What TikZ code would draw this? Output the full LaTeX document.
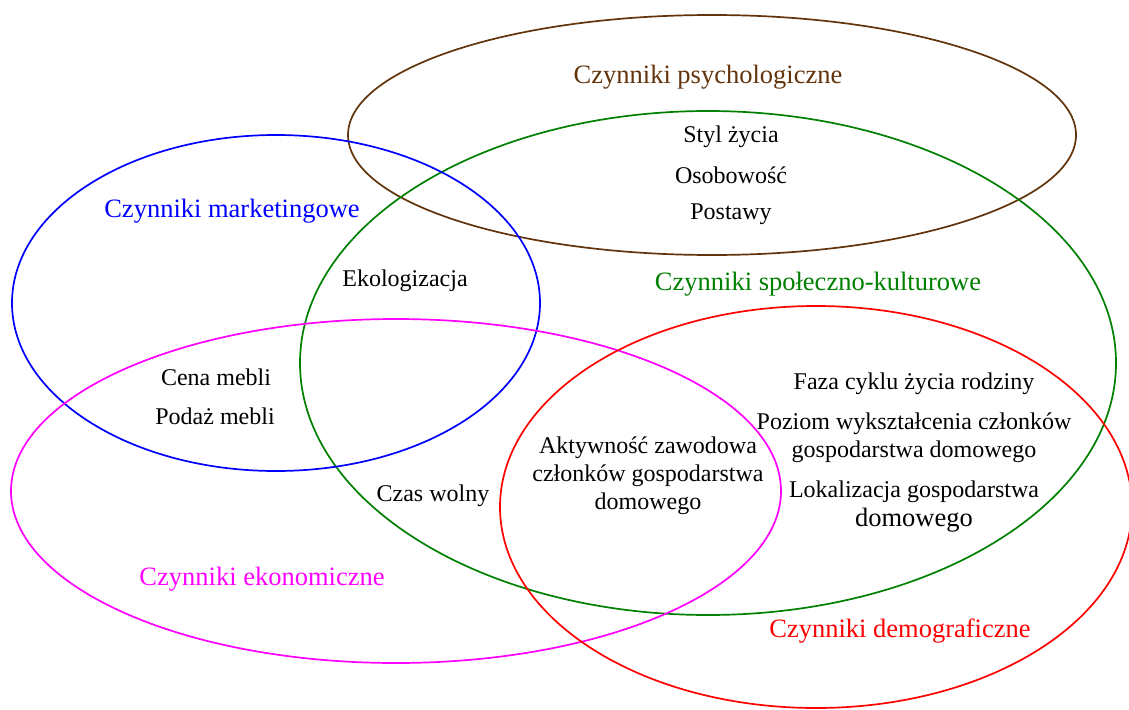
\documentclass[tikz,border=0pt]{standalone}
\usepackage{fontspec}
\setmainfont{Liberation Serif}
\definecolor{psybrown}{RGB}{99,52,12}
\definecolor{socgreen}{RGB}{0,128,0}
\definecolor{mkblue}{RGB}{0,0,255}
\definecolor{ekmag}{RGB}{255,0,255}
\definecolor{demred}{RGB}{255,0,0}
\begin{document}
\begin{tikzpicture}[x=1pt,y=-1pt,
  ring/.style={line width=1.7pt},
  lab/.style={font=\fontsize{26.5}{30}\selectfont, inner sep=0pt, align=center},
  txt/.style={font=\fontsize{24}{28}\selectfont, inner sep=0pt, align=center}]
\useasboundingbox[fill=white] (0,0) rectangle (1129,709);
\draw[ring, psybrown] (712,135) ellipse [x radius=364, y radius=120];
\draw[ring, socgreen] (708,363) ellipse [x radius=408, y radius=252];
\draw[ring, mkblue] (276,303) ellipse [x radius=264, y radius=168];
\draw[ring, ekmag] (396,491) ellipse [x radius=385, y radius=172];
\draw[ring, demred] (816,507) ellipse [x radius=316, y radius=201];

\node[lab, text=psybrown] (psy) at (708,77) {Czynniki psychologiczne};
\node[txt] (styl) at (731,137) {Styl życia};
\node[txt] (osob) at (731,175) {Osobowość};
\node[txt] (post) at (731,214) {Postawy};
\node[lab, text=mkblue] (mark) at (232,211) {Czynniki marketingowe};
\node[txt] (eko) at (405,281) {Ekologizacja};
\node[lab, text=socgreen] (soc) at (818,284) {Czynniki społeczno-kulturowe};
\node[txt] (cena) at (216,377) {Cena mebli};
\node[txt] (podaz) at (215,416) {Podaż mebli};
\node[txt] (faza) at (914,384) {Faza cyklu życia rodziny};
\node[txt] (poziom) at (914,438) {Poziom wykształcenia członków\\gospodarstwa domowego};
\node[txt] (lokal) at (914,492) {Lokalizacja gospodarstwa};
\node[lab] (domlok) at (914,520) {domowego};
\node[txt] (aktyw) at (648,476) {Aktywność zawodowa\\członków gospodarstwa\\domowego};
\node[txt] (czas) at (433,496) {Czas wolny};
\node[lab, text=ekmag] (eko2) at (262,579) {Czynniki ekonomiczne};
\node[lab, text=demred] (demo) at (900,631) {Czynniki demograficzne};
\end{tikzpicture}
\end{document}
